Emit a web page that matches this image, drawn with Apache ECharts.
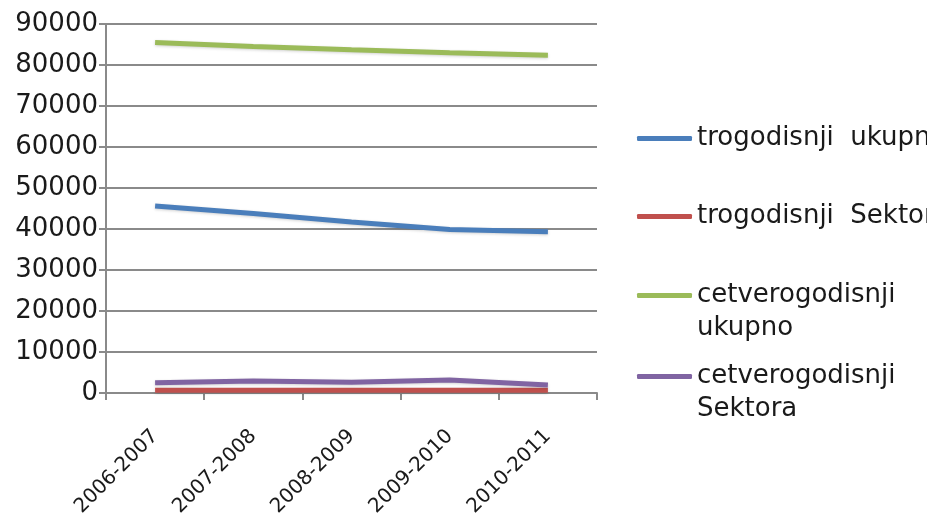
<!DOCTYPE html>
<html>
<head>
<meta charset="utf-8">
<title>trogodisnji / cetverogodisnji</title>
<script src="https://cdn.jsdelivr.net/npm/echarts@6/dist/echarts.min.js"></script>
<style>
  html, body { margin: 0; padding: 0; background: #fff; }
  #chart { width: 927px; height: 522px; }
</style>
</head>
<body>
<div id="chart"></div>
<script>
/* global echarts */
const categories = ['2006-2007', '2007-2008', '2008-2009', '2009-2010', '2010-2011'];
const trogodisnjiUkupno = [45600, 43800, 41700, 39900, 39300];
const trogodisnjiSektora = [700, 700, 700, 700, 700];
const cetverogodisnjiUkupno = [85500, 84500, 83700, 83000, 82400];
const cetverogodisnjiSektora = [2500, 2900, 2600, 3200, 1950];
const yTicks = { min: 0, max: 90000, interval: 10000 };

const names = ['trogodisnji  ukupno', 'trogodisnji  Sektora', 'cetverogodisnji ukupno', 'cetverogodisnji Sektora'];
// legend shows the long ones on two lines (leading empty line keeps the marker on line one)
const legendText = {
  'trogodisnji  ukupno': 'trogodisnji  ukupno',
  'trogodisnji  Sektora': 'trogodisnji  Sektora',
  'cetverogodisnji ukupno': '\ncetverogodisnji\nukupno',
  'cetverogodisnji Sektora': '\ncetverogodisnji\nSektora',
};
const colors = ['#4a7ebb', '#c0504d', '#9bbb59', '#8064a2'];
const values = [trogodisnjiUkupno, trogodisnjiSektora, cetverogodisnjiUkupno, cetverogodisnjiSektora];
const legendTops = [122, 200, 246, 327];

const font = 'DejaVu Sans';
const axisGray = '#8a8a8a';

const makeLegend = (name, top) => ({
  data: [name],
  left: 637,
  top,
  padding: 0,
  orient: 'vertical',
  icon: 'roundRect',
  itemWidth: 55,
  itemHeight: 5,
  selectedMode: false,
  formatter: n => legendText[n],
  textStyle: {
    fontFamily: font,
    fontSize: 26,
    lineHeight: 33,
    color: '#1a1a1a',
  },
});

const chart = echarts.init(document.getElementById('chart'));
chart.setOption({
  animation: false,
  backgroundColor: '#ffffff',
  color: colors,
  grid: {
    left: 106, right: 330, top: 24, bottom: 129,
  },
  legend: names.map((n, i) => makeLegend(n, legendTops[i])),
  xAxis: {
    type: 'category',
    data: categories,
    boundaryGap: true,
    axisLine: { lineStyle: { color: axisGray, width: 2 } },
    axisTick: {
      show: true, alignWithLabel: false, length: 7, lineStyle: { color: axisGray, width: 2 },
    },
    axisLabel: {
      rotate: 45,
      margin: 40,
      fontFamily: font,
      fontSize: 20,
      color: '#1a1a1a',
    },
  },
  yAxis: {
    type: 'value',
    ...yTicks,
    axisLine: { show: true, lineStyle: { color: axisGray, width: 2 } },
    axisTick: { show: true, length: 7, lineStyle: { color: axisGray, width: 2 } },
    splitLine: { show: true, lineStyle: { color: axisGray, width: 2 } },
    axisLabel: {
      margin: 8,
      fontFamily: font,
      fontSize: 26,
      color: '#1a1a1a',
      formatter: v => String(v),
    },
  },
  series: names.map((n, i) => ({
    name: n,
    type: 'line',
    data: values[i],
    symbol: 'none',
    lineStyle: {
      width: 5,
      color: colors[i],
      shadowColor: 'rgba(0,0,0,0.18)',
      shadowBlur: 3,
      shadowOffsetY: 1,
    },
  })),
});
</script>
</body>
</html>
